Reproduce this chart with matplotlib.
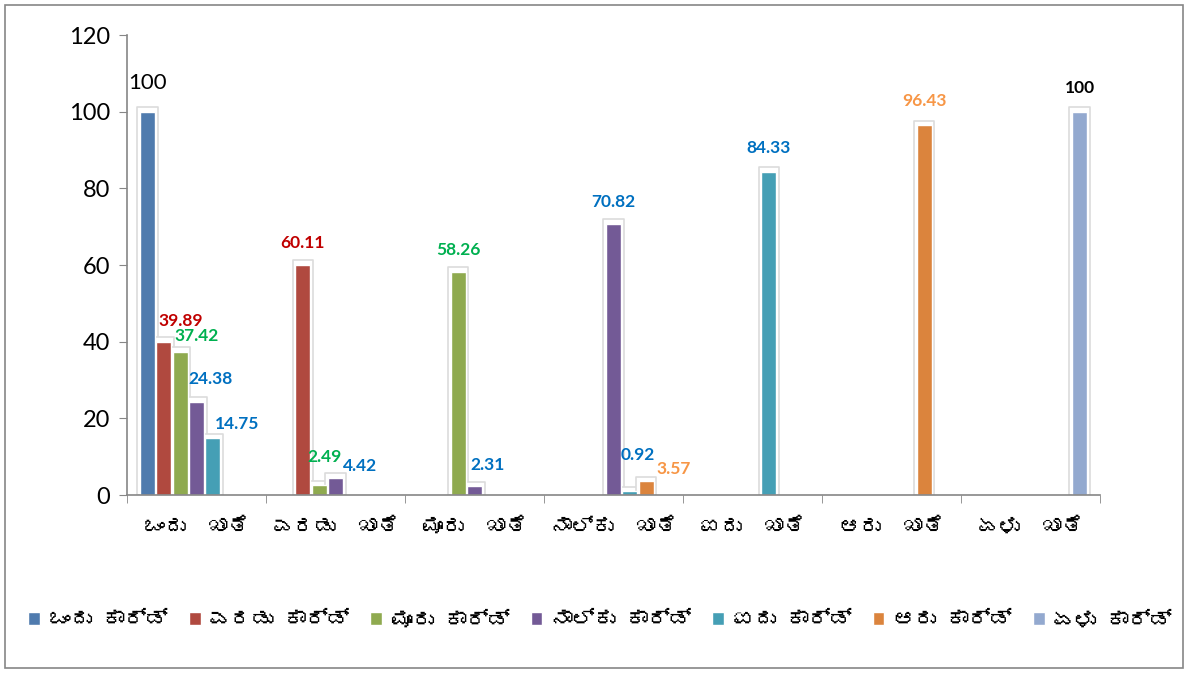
import numpy as np
import matplotlib
matplotlib.use("Agg")
import matplotlib.pyplot as plt
from matplotlib import font_manager
from matplotlib.ft2font import FT2Font
from matplotlib.patches import Rectangle

# chart data
categories = ["ಒಂದು  ಖಾತೆ", "ಎರಡು  ಖಾತೆ", "ಮೂರು  ಖಾತೆ", "ನಾಲ್ಕು  ಖಾತೆ",
              "ಐದು  ಖಾತೆ", "ಆರು  ಖಾತೆ", "ಏಳು  ಖಾತೆ"]
series_names = ["ಒಂದು ಕಾರ್ಡ್", "ಎರಡು ಕಾರ್ಡ್", "ಮೂರು ಕಾರ್ಡ್", "ನಾಲ್ಕು ಕಾರ್ಡ್",
                "ಐದು ಕಾರ್ಡ್", "ಆರು ಕಾರ್ಡ್", "ಏಳು ಕಾರ್ಡ್"]
nan = np.nan
one_card = [100, nan, nan, nan, nan, nan, nan]
two_card = [39.89, 60.11, nan, nan, nan, nan, nan]
three_card = [37.42, 2.49, 58.26, nan, nan, nan, nan]
four_card = [24.38, 4.42, 2.31, 70.82, nan, nan, nan]
five_card = [14.75, nan, nan, 0.92, 84.33, nan, nan]
six_card = [nan, nan, nan, 3.57, nan, 96.43, nan]
seven_card = [nan, nan, nan, nan, nan, nan, 100]
series = [one_card, two_card, three_card, four_card, five_card, six_card, seven_card]

colors = ["#4F7BAE", "#B0493F", "#8FAA4F", "#735A96", "#459FB5", "#DB843D", "#93A9CF"]

# (series index, category index, label colour, bold, pixel offset dx, dy)
labels = [
    (0, 0, "black", False, 0, 29),
    (1, 0, "#C00000", True, 17, 21),
    (2, 0, "#00B050", True, 16, 16),
    (3, 0, "#0070C0", True, 14, 23),
    (4, 0, "#0070C0", True, 24, 14),
    (1, 1, "#C00000", True, 0, 22),
    (2, 1, "#00B050", True, 5, 28),
    (3, 1, "#0070C0", True, 25, 12),
    (2, 2, "#00B050", True, 0, 22),
    (3, 2, "#0070C0", True, 13, 21),
    (3, 3, "#0070C0", True, 0, 22),
    (4, 3, "#0070C0", True, 8, 36),
    (5, 3, "#F79646", True, 27, 12),
    (4, 4, "#0070C0", True, 0, 24),
    (5, 5, "#F79646", True, 0, 24),
    (6, 6, "black", True, 0, 24),
]


def find_kannada_font():
    for f in font_manager.fontManager.ttflist:
        try:
            if 0x0C92 in FT2Font(f.fname).get_charmap():
                return f.name
        except Exception:
            pass
    return None


kn = find_kannada_font()
fams = ([kn] if kn else []) + ["Lato", "DejaVu Sans"]
plt.rcParams["font.family"] = fams
num_font = ["Lato", "DejaVu Sans"]

fig = plt.figure(figsize=(11.88, 6.73), dpi=100)
ax = fig.add_axes([127 / 1188, 1 - 495 / 673, (1100 - 127) / 1188, (495 - 35) / 673])

slot = 1 / 8.5
x = np.arange(len(categories))
for i, vals in enumerate(series):
    xs = x + (i - 3) * slot
    v = np.array(vals, dtype=float)
    ax.bar(xs, v + 1.2, width=slot * 1.25, color="white", edgecolor="#dcdcdc",
           linewidth=1.2, joinstyle="round", zorder=1)
    ax.bar(xs, v, width=slot * 0.9, color=colors[i], edgecolor="white",
           linewidth=1.0, zorder=2, label=series_names[i])

for si, ci, col, bold, dx, dy in labels:
    val = series[si][ci]
    txt = "100" if val == 100 else f"{val:.2f}"
    ax.annotate(txt, (x[ci] + (si - 3) * slot, val), xytext=(dx, dy),
                textcoords="offset pixels", ha="center", va="center",
                color=col, fontsize=16 if not bold else 12.5,
                fontweight="bold" if bold else "normal", family=num_font,
                zorder=5)

ax.set_xlim(-0.5, 6.5)
ax.set_ylim(0, 120)
ax.set_yticks(range(0, 121, 20))
ax.tick_params(axis="y", labelsize=17, length=6, color="#868686", pad=6)
for t in ax.get_yticklabels():
    t.set_family(num_font)
ax.set_xticks(x)
ax.set_xticklabels(categories, fontsize=15, fontweight="bold")
ax.tick_params(axis="x", length=0, pad=16)
ax.set_xticks(np.arange(-0.5, 7, 1), minor=True)
ax.tick_params(axis="x", which="minor", length=6, color="#868686")
for s in ["top", "right"]:
    ax.spines[s].set_visible(False)
for s in ["left", "bottom"]:
    ax.spines[s].set_color("#868686")
    ax.spines[s].set_linewidth(1.2)

handles, names = ax.get_legend_handles_labels()
leg = fig.legend(handles, names, loc="center", bbox_to_anchor=(600 / 1188, 1 - 620 / 673),
                 ncol=7, frameon=False, handlelength=0.55, handleheight=0.55,
                 handletextpad=0.4, columnspacing=1.0,
                 prop={"size": 15.5, "weight": "bold"})

fig.patches.append(Rectangle((5 / 1188, 5 / 673), 1178 / 1188, 663 / 673,
                             transform=fig.transFigure, fill=False,
                             edgecolor="#868686", linewidth=1.2))

fig.savefig("out.png", dpi=100)
